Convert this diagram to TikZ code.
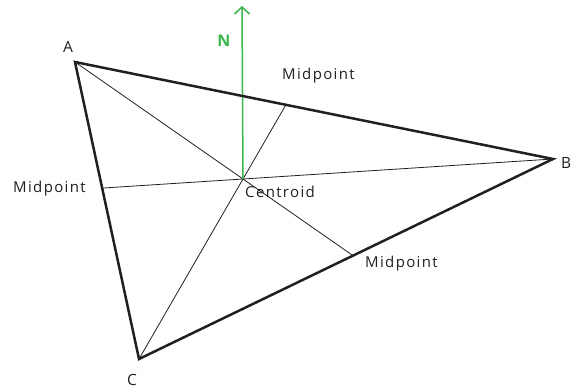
\documentclass[tikz,border=0pt]{standalone}
\usepackage{fontspec}
\setmainfont{Open Sans}
\newfontfamily\lblfont[LetterSpace=9]{Open Sans}
\usetikzlibrary{arrows.meta}
\definecolor{ink}{HTML}{231F20}
\definecolor{ngreen}{HTML}{39B54A}
\tikzset{
  side/.style={line width=2.5pt, ink, line join=miter},
  median/.style={line width=0.8pt, ink},
  lbl/.style={inner sep=0pt, anchor=base west, text=ink, font=\lblfont\fontsize{15}{17}\selectfont},
  vlbl/.style={inner sep=0pt, anchor=base, text=ink, font=\fontsize{15.5}{17}\selectfont},
  north/.style={line width=1.5pt, ngreen, -{Straight Barb[length=7pt,width=15pt,line width=1.5pt]}}
}
\begin{document}
\begin{tikzpicture}[x=1pt,y=-1pt]
\useasboundingbox (0,0) rectangle (574,389);
\coordinate (A) at (75,62);
\coordinate (B) at (553,159);
\coordinate (C) at (139,359);
\coordinate (G) at (243,179);
\coordinate (Ntop) at (242,6);
\coordinate (MBC) at (intersection of A--G and B--C);
\coordinate (MAB) at (intersection of C--G and A--B);
\coordinate (MAC) at (intersection of B--G and A--C);
\draw[median] (A) -- (MBC);
\draw[median] (C) -- (MAB);
\draw[median] (B) -- (MAC);
\draw[north] (G) -- (Ntop);
\draw[side] (A) -- (B) -- (C) -- cycle;
\node[vlbl] (lA) at (68,52) {A};
\node[vlbl, anchor=base west] (lB) at (561,168) {B};
\node[vlbl] (lC) at (132,385.5) {C};
\node[vlbl, text=ngreen, font=\bfseries\fontsize{16}{18}\selectfont] (lN) at (224,46) {N};
\node[lbl] (l1) at (282,79) {Midpoint};
\node[lbl] (l2) at (13,192) {Midpoint};
\node[lbl] (l3) at (365,267) {Midpoint};
\node[lbl] (lG) at (245,197) {Centroid};
\end{tikzpicture}
\end{document}
